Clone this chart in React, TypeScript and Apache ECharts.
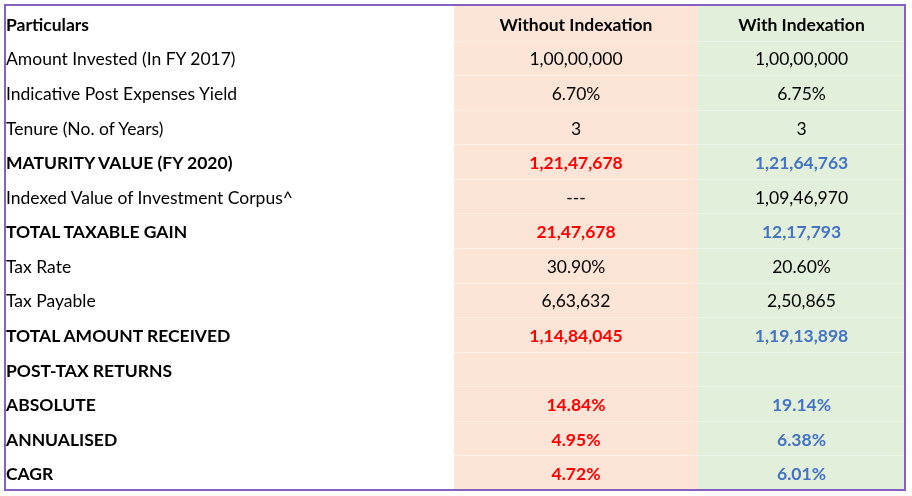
import React, { useEffect, useRef } from "react";
import * as echarts from "echarts";

const headers = ["Particulars", "Without Indexation", "With Indexation"];
const particulars = [
  "Amount Invested (In FY 2017)",
  "Indicative Post Expenses Yield",
  "Tenure (No. of Years)",
  "MATURITY VALUE (FY 2020)",
  "Indexed Value of Investment Corpus^",
  "TOTAL TAXABLE GAIN",
  "Tax Rate",
  "Tax Payable",
  "TOTAL AMOUNT RECEIVED",
  "POST-TAX RETURNS",
  "ABSOLUTE",
  "ANNUALISED",
  "CAGR",
];
const withoutIndexation = [
  "1,00,00,000", "6.70%", "3", "1,21,47,678", "---", "21,47,678", "30.90%",
  "6,63,632", "1,14,84,045", "", "14.84%", "4.95%", "4.72%",
];
const withIndexation = [
  "1,00,00,000", "6.75%", "3", "1,21,64,763", "1,09,46,970", "12,17,793", "20.60%",
  "2,50,865", "1,19,13,898", "", "19.14%", "6.38%", "6.01%",
];
// "n" normal, "h" highlighted (bold, coloured values), "b" bold label
const rowKinds = ["n", "n", "n", "h", "n", "h", "n", "n", "h", "b", "h", "h", "h"];

const FONT = "Lato, 'Liberation Sans', sans-serif";
const FS = 17.5;

export default function App() {
  const ref = useRef<HTMLDivElement>(null);
  useEffect(() => {
    if (!ref.current) return;
    const chart = echarts.init(ref.current, undefined, { renderer: "svg" });
    const top = 6;
    const bottom = 490;
    const left = 5;
    const right = 905;
    const colX = [left, 454, 698, right];
    const nRows = particulars.length + 1;
    const rowH = (bottom - top) / nRows;
    const textOffset = 1;
    const elements: any[] = [];
    elements.push({ type: "rect", shape: { x: 0, y: 0, width: 912, height: 496 }, style: { fill: "#ffffff" } });
    elements.push({ type: "rect", shape: { x: colX[1], y: top, width: colX[2] - colX[1], height: bottom - top }, style: { fill: "#FCE4D6" } });
    elements.push({ type: "rect", shape: { x: colX[2], y: top, width: colX[3] - colX[2], height: bottom - top }, style: { fill: "#E2EFDA" } });
    for (let r = 1; r < nRows; r++) {
      const y = Math.round(top + r * rowH) + 0.5;
      elements.push({ type: "line", shape: { x1: colX[1], y1: y, x2: colX[3], y2: y }, style: { stroke: "rgba(255,255,255,0.4)", lineWidth: 1 } });
    }
    const addText = (t: string, x: number, y: number, align: string, bold: boolean, color: string) => {
      elements.push({
        type: "text",
        x,
        y: y + textOffset,
        style: { text: t, fill: color, font: `${bold ? "bold " : ""}${FS}px ${FONT}`, align, verticalAlign: "middle" },
      });
    };
    const c1 = (colX[1] + colX[2]) / 2;
    const c2 = (colX[2] + colX[3]) / 2;
    const hy = top + rowH / 2;
    addText(headers[0], 6, hy, "left", true, "#000000");
    addText(headers[1], c1, hy, "center", true, "#000000");
    addText(headers[2], c2, hy, "center", true, "#000000");
    particulars.forEach((p, i) => {
      const y = top + (i + 1) * rowH + rowH / 2;
      const k = rowKinds[i];
      const bold = k !== "n";
      addText(p, 6, y, "left", bold, "#000000");
      addText(withoutIndexation[i], c1, y, "center", bold, k === "h" ? "#FF0000" : "#000000");
      addText(withIndexation[i], c2, y, "center", bold, k === "h" ? "#4472C4" : "#000000");
    });
    elements.push({ type: "rect", shape: { x: left, y: 5, width: right - left, height: bottom - 5 }, style: { fill: "none", stroke: "#8661C1", lineWidth: 2 } });
    chart.setOption({ animation: false, graphic: { elements } });
    return () => chart.dispose();
  }, []);
  return <div ref={ref} style={{ position: "fixed", left: 0, top: 0, width: 912, height: 496 }} />;
}
